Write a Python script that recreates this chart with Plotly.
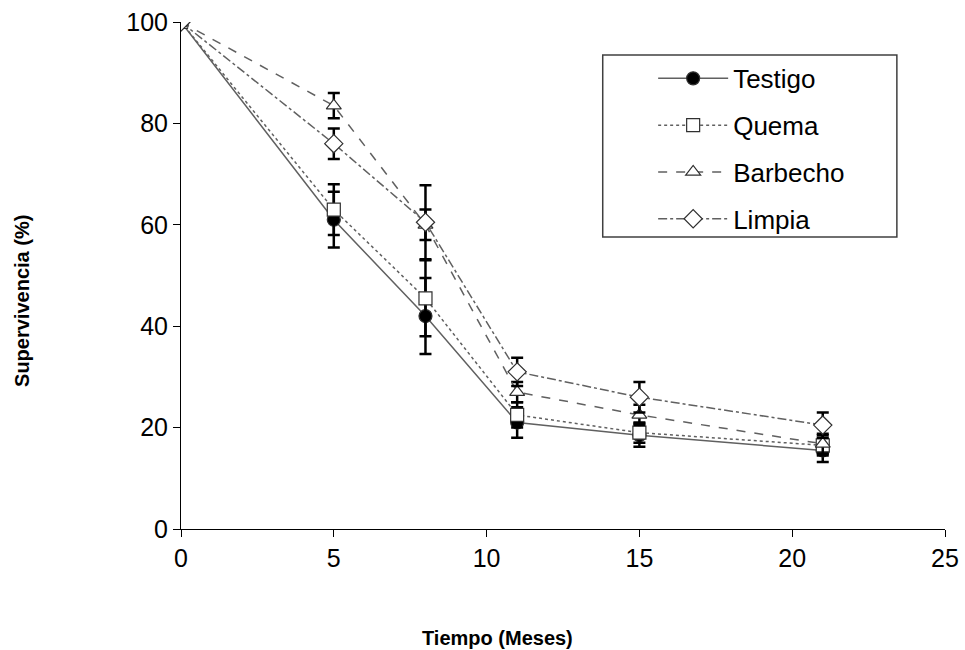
import plotly.graph_objects as go

meses = [0, 5, 8, 11, 15, 21]
testigo = [100, 61, 42, 21, 18.5, 15.5]
testigo_err = [0, 5.5, 7.5, 3, 2.3, 2.3]
quema = [100, 63, 45.5, 22.5, 19, 16.5]
quema_err = [0, 5, 7.5, 2.5, 2, 2]
barbecho = [100, 83.5, 60, 27, 22.5, 16.8]
barbecho_err = [0, 2.5, 3, 2, 2, 2]
limpia = [100, 76, 60.5, 31, 26, 20.5]
limpia_err = [0, 3, 7.3, 2.8, 3, 2.5]

series = [
    ("Testigo", testigo, testigo_err, "solid", "circle", "black"),
    ("Quema", quema, quema_err, "dot", "square", "white"),
    ("Barbecho", barbecho, barbecho_err, "dash", "triangle-up", "white"),
    ("Limpia", limpia, limpia_err, "dashdot", "diamond", "white"),
]

fig = go.Figure()
for i, (name, y, err, dash, sym, fill) in enumerate(series):
    fig.add_trace(go.Scatter(
        x=meses, y=y, name=name, mode="lines+markers",
        legendgroup=str(i),
        line=dict(color="#606060", width=1.5, dash=dash),
        marker=dict(symbol=sym, size=13 if sym != "diamond" else 14, color=fill,
                    line=dict(color="#303030", width=1.2)),
        error_y=dict(type="data", array=err, visible=True, color="black",
                     thickness=2.5, width=6),
    ))

fig.update_layout(
    width=965, height=650,
    margin=dict(l=181, r=20, t=22, b=121),
    paper_bgcolor="white", plot_bgcolor="white",
    font=dict(family="Arial, Liberation Sans, sans-serif", color="black"),
    showlegend=True,
    legend=dict(x=0.618, y=0.935, xanchor="left", yanchor="top",
                borderwidth=0, font=dict(size=26), tracegroupgap=10,
                bgcolor="rgba(0,0,0,0)", itemwidth=70),
    xaxis=dict(range=[0, 25], tickvals=[0, 5, 10, 15, 20, 25],
               showline=True, linecolor="black", linewidth=1,
               ticks="outside", ticklen=7, tickcolor="black",
               showgrid=False, zeroline=False, ticklabeloverflow="allow",
               automargin=False, tickfont=dict(size=25)),
    yaxis=dict(range=[0, 100], tickvals=[0, 20, 40, 60, 80, 100],
               showline=True, linecolor="black", linewidth=1,
               ticks="outside", ticklen=7, tickcolor="black",
               showgrid=False, zeroline=False, ticklabeloverflow="allow",
               automargin=False, tickfont=dict(size=25)),
    shapes=[
        dict(type="rect", xref="paper", yref="paper",
             x0=0.552, x1=0.937, y0=0.576, y1=0.935,
             line=dict(color="#404040", width=1.5), fillcolor="white",
             layer="below"),
    ],
    annotations=[
        dict(text="<b>Tiempo (Meses)</b>", xref="paper", yref="paper",
             x=0.414, y=-0.215, showarrow=False, font=dict(size=20),
             xanchor="center", yanchor="middle"),
        dict(text="<b>Supervivencia (%)</b>", xref="paper", yref="paper",
             x=-0.208, y=0.45, showarrow=False, font=dict(size=20),
             textangle=-90, xanchor="center", yanchor="middle"),
    ],
)

fig.write_html("out.html", config={"displayModeBar": False},
               post_script="document.body.style.margin='0';document.body.style.overflow='hidden';")
